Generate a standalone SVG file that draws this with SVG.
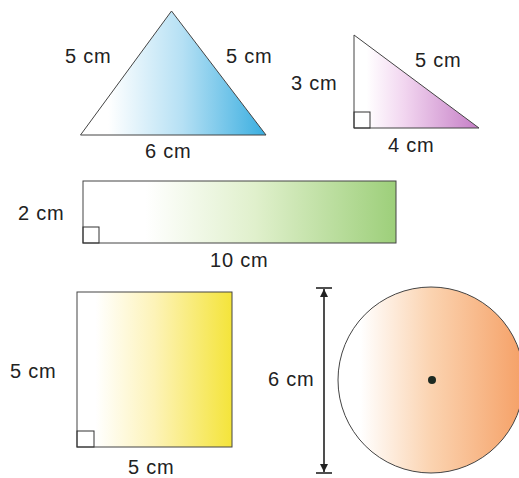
<svg xmlns="http://www.w3.org/2000/svg" width="519" height="478" viewBox="0 0 519 478">
<defs>
<style>
.lbl{font-family:"Liberation Sans",Arial,sans-serif;font-size:20px;fill:#222;letter-spacing:0.8px}
.shape{stroke:#444;stroke-width:1}
.ra{fill:none;stroke:#333;stroke-width:1}
.dim{stroke:#222;stroke-width:1.6;fill:none}
</style>
<linearGradient id="gBlue" x1="0" y1="0" x2="1" y2="0">
<stop offset="0.15" stop-color="#ffffff"/><stop offset="0.55" stop-color="#b5e0f4"/><stop offset="1" stop-color="#3aaee0"/>
</linearGradient>
<linearGradient id="gPurple" x1="0" y1="0" x2="1" y2="0">
<stop offset="0.1" stop-color="#ffffff"/><stop offset="0.4" stop-color="#f2d6f0"/><stop offset="1" stop-color="#c57ec6"/>
</linearGradient>
<linearGradient id="gGreen" x1="0" y1="0" x2="1" y2="0">
<stop offset="0.2" stop-color="#ffffff"/><stop offset="0.55" stop-color="#e0f0cc"/><stop offset="1" stop-color="#9dcf7a"/>
</linearGradient>
<linearGradient id="gYellow" x1="0" y1="0" x2="1" y2="0">
<stop offset="0.12" stop-color="#ffffff"/><stop offset="0.5" stop-color="#fdf3b8"/><stop offset="1" stop-color="#f4e43a"/>
</linearGradient>
<linearGradient id="gOrange" x1="0" y1="0" x2="1" y2="0">
<stop offset="0.12" stop-color="#ffffff"/><stop offset="0.5" stop-color="#fbd3b0"/><stop offset="1" stop-color="#f5a066"/>
</linearGradient>
<marker id="arr" viewBox="0 0 10 10" refX="10" refY="5" markerWidth="5" markerHeight="7" markerUnits="strokeWidth" orient="auto-start-reverse">
<path d="M0,0 L10,5 L0,10 z" fill="#222"/>
</marker>
</defs>

<g id="isosceles-triangle">
<polygon class="shape" points="171.5,11 80.5,135 266,135" fill="url(#gBlue)"/>
<text class="lbl" x="65" y="63">5 cm</text>
<text class="lbl" x="226" y="63">5 cm</text>
<text class="lbl" x="145" y="158">6 cm</text>
</g>

<g id="right-triangle">
<polygon class="shape" points="354,35 354,128 479,128" fill="url(#gPurple)"/>
<rect class="ra" x="354" y="112" width="16" height="16"/>
<text class="lbl" x="415" y="67">5 cm</text>
<text class="lbl" x="291" y="90">3 cm</text>
<text class="lbl" x="388" y="152">4 cm</text>
</g>

<g id="rectangle">
<rect class="shape" x="83" y="181" width="313" height="62" fill="url(#gGreen)"/>
<rect class="ra" x="83" y="227" width="16" height="16"/>
<text class="lbl" x="18" y="220">2 cm</text>
<text class="lbl" x="210" y="267">10 cm</text>
</g>

<g id="square">
<rect class="shape" x="77" y="292" width="155" height="155" fill="url(#gYellow)"/>
<rect class="ra" x="77" y="431" width="17" height="16"/>
<text class="lbl" x="10" y="378">5 cm</text>
<text class="lbl" x="128" y="474">5 cm</text>
</g>

<g id="circle">
<circle class="shape" cx="431" cy="380" r="93" fill="url(#gOrange)"/>
<circle cx="432" cy="380" r="4" fill="#1d2a22"/>
</g>

<g id="connectors">
<line class="dim" x1="316" y1="288" x2="332" y2="288"/>
<line class="dim" x1="316" y1="473" x2="332" y2="473"/>
<line class="dim" x1="324" y1="289" x2="324" y2="472" marker-start="url(#arr)" marker-end="url(#arr)"/>
<text class="lbl" x="268" y="386">6 cm</text>
</g>
</svg>
